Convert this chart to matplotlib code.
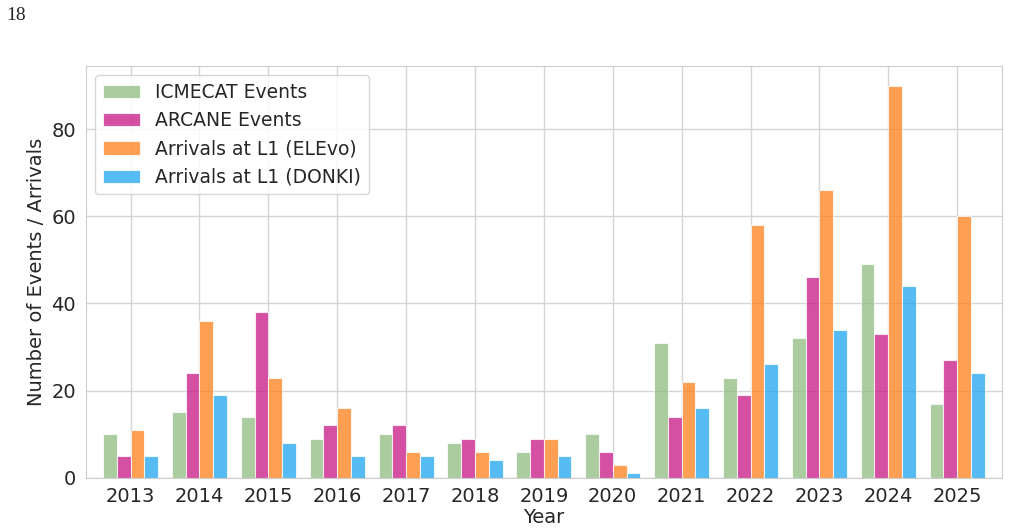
import matplotlib
matplotlib.use("Agg")
import matplotlib.pyplot as plt
import numpy as np
import seaborn as sns

years = [2013, 2014, 2015, 2016, 2017, 2018, 2019, 2020, 2021, 2022, 2023, 2024, 2025]
icmecat = [10, 15, 14, 9, 10, 8, 6, 10, 31, 23, 32, 49, 17]
arcane = [5, 24, 38, 12, 12, 9, 9, 6, 14, 19, 46, 33, 27]
elevo = [11, 36, 23, 16, 6, 6, 9, 3, 22, 58, 66, 90, 60]
donki = [5, 19, 8, 5, 5, 4, 5, 1, 16, 26, 34, 44, 24]

series = [
    ("ICMECAT Events", icmecat, "#8fbc7f"),
    ("ARCANE Events", arcane, "#c71585"),
    ("Arrivals at L1 (ELEvo)", elevo, "#ff7f1a"),
    ("Arrivals at L1 (DONKI)", donki, "#1ea4f0"),
]

sns.set_style("whitegrid")
plt.rcParams["font.family"] = ["DejaVu Sans"]

fig = plt.figure(figsize=(10.09, 5.32), dpi=100)
ax = fig.add_axes([0.085, 0.102, 0.908, 0.774])

x = np.array(years, dtype=float)
width = 0.2
for i, (label, values, color) in enumerate(series):
    ax.bar(x + (i - 1.5) * width, values, width=width, label=label,
           color=color, alpha=0.75, edgecolor="white", linewidth=0.8)

ax.set_xticks(years)
ax.set_xticklabels([str(y) for y in years], fontsize=14)
ax.tick_params(axis="y", labelsize=14)
ax.set_yticks([0, 20, 40, 60, 80])
ax.set_ylim(0, 94.5)
ax.set_xlim(years[0] - 0.65, years[-1] + 0.65)
ax.set_xlabel("Year", fontsize=14, labelpad=1)
ax.set_ylabel("Number of Events / Arrivals", fontsize=14)
ax.grid(True, color="#d5d5d5", linewidth=1.0)
for spine in ax.spines.values():
    spine.set_color("#cccccc")
ax.legend(loc="upper left", fontsize=13.5, framealpha=0.8, edgecolor="#cccccc",
          handlelength=2.0, labelspacing=0.5)

fig.text(0.006, 0.97, "18", family="Liberation Serif", fontsize=14, va="center")

fig.savefig("out.png", dpi=100)
